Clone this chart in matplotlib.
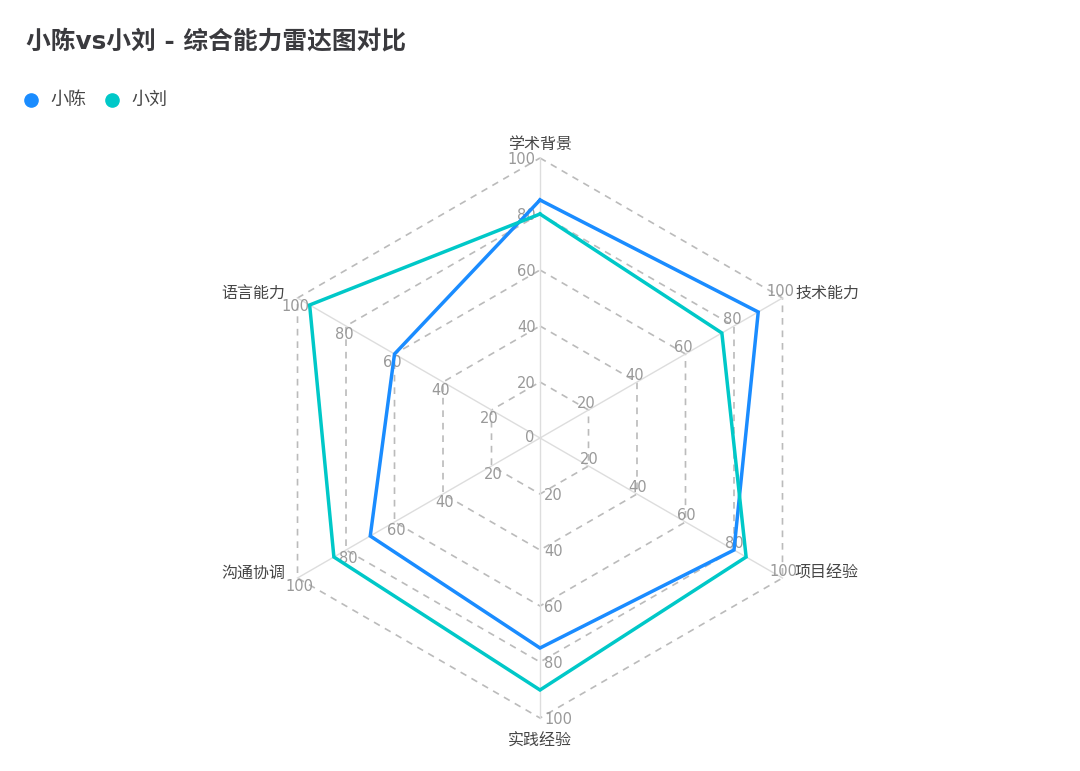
import numpy as np
import matplotlib
matplotlib.use("Agg")
import matplotlib.pyplot as plt

plt.rcParams['font.family'] = ['DejaVu Sans', 'Noto Sans CJK SC']

# 数据
indicators = ['学术背景', '技术能力', '项目经验', '实践经验', '沟通协调', '语言能力']
chen = [85, 90, 80, 75, 70, 60]
liu = [80, 75, 85, 90, 85, 95]
series_names = ['小陈', '小刘']
series_colors = ['#1a8cff', '#00c8c8']
ticks = [20, 40, 60, 80, 100]
max_value = 100

# 画布：整张图一个坐标轴，1 单位 = 2.8 像素，圆心在 (540, 438)
W, H = 1080, 771
cx, cy, scale = 540, 438, 2.8
fig = plt.figure(figsize=(W / 100, H / 100), dpi=100)
ax = fig.add_axes([0, 0, 1, 1])
ax.set_xlim(-cx / scale, (W - cx) / scale)
ax.set_ylim(-(H - cy) / scale, cy / scale)
ax.axis('off')

n = len(indicators)
angles = np.deg2rad(90 - 360 / n * np.arange(n))
cos_a, sin_a = np.cos(angles), np.sin(angles)

# 网格（虚线六边形）
for t in ticks:
    xs = np.append(t * cos_a, t * cos_a[0])
    ys = np.append(t * sin_a, t * sin_a[0])
    ax.plot(xs, ys, color='#bbbbbb', lw=1.2, ls=(0, (4, 3.5)), zorder=1)

# 轴线
for c, s in zip(cos_a, sin_a):
    ax.plot([0, max_value * c], [0, max_value * s], color='#dddddd', lw=1, zorder=1)

# 刻度标签（每条轴上都显示）
tick_kw = dict(color='#999999', fontsize=10.5, zorder=2)
ax.annotate('0', (0, 0), xytext=(-4, 0), textcoords='offset points',
            ha='right', va='center', **tick_kw)
for c, s in zip(cos_a, sin_a):
    pc, ps = -s, c  # 垂直方向
    ha = 'center' if abs(pc) < 0.6 else ('right' if pc < 0 else 'left')
    va = 'center' if abs(ps) < 0.6 else ('top' if ps < 0 else 'bottom')
    for t in ticks:
        ax.annotate(str(t), (t * c, t * s), xytext=(3 * pc - 1 * (c > 0.5 and s < 0), -0.8),
                    textcoords='offset points', ha=ha, va=va, **tick_kw)

# 指标名称
for name, c, s in zip(indicators, cos_a, sin_a):
    ha = 'center' if abs(c) < 0.3 else ('left' if c > 0 else 'right')
    if abs(s) < 0.9:
        va, off = 'center', (9 * np.sign(c), 3.5)
    elif s > 0:
        va, off = 'bottom', (0, 4.5)
    else:
        va, off = 'top', (0, -11)
    ax.annotate(name, (max_value * c, max_value * s), xytext=off,
                textcoords='offset points', ha=ha, va=va,
                color='#464646', fontsize=11.5)

# 数据系列
for vals, color in zip([chen, liu], series_colors):
    v = np.array(vals + vals[:1], dtype=float)
    xs = v * np.append(cos_a, cos_a[0])
    ys = v * np.append(sin_a, sin_a[0])
    ax.plot(xs, ys, color=color, lw=2.5, solid_joinstyle='miter', zorder=3)

# 标题
fig.text(26 / W, 1 - 42 / H, '小陈vs小刘 - 综合能力雷达图对比', fontsize=17.8,
         fontweight='bold', color='#3a3a3e', ha='left', va='center')

# 图例
legend_x = [31, 112]
for name, color, lx in zip(series_names, series_colors, legend_x):
    ax.plot([lx / W], [1 - 100 / H], 'o', color=color, ms=9.5,
            transform=fig.transFigure, clip_on=False)
    fig.text((lx + 19) / W, 1 - 100 / H, name, fontsize=13, color='#464646',
             ha='left', va='center')

fig.savefig('out.png', dpi=100)
